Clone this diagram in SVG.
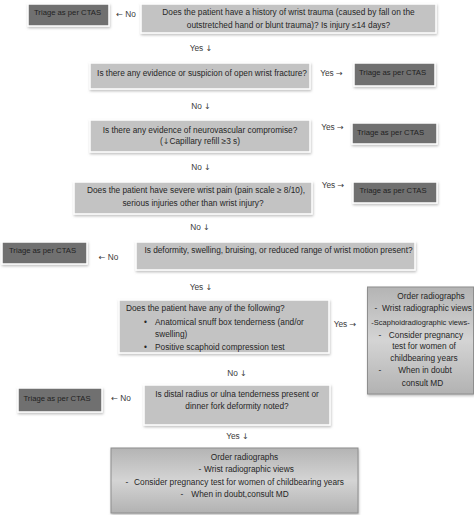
<svg xmlns="http://www.w3.org/2000/svg" width="474" height="515" viewBox="0 0 474 515">
<style>
text{font-family:"Liberation Sans",Arial,sans-serif;font-size:8.3px;fill:#262626;}
.m{text-anchor:middle;}
.q{fill:#c3c3c3;stroke:#fff;stroke-width:1.5;filter:url(#sh);}
.t{fill:#6f6f6f;stroke:#fff;stroke-width:1.5;filter:url(#sh);}
.tt{fill:#222;font-size:7.7px;}
.o{fill:url(#g);stroke:#8e8e8e;stroke-width:1;filter:url(#sh);}
.lbl text{fill:#3a3a3a;}
.a{font-family:"DejaVu Sans",sans-serif;font-size:8px;font-variant-emoji:text;fill:#3a3a3a;}
</style>
<defs>
<filter id="sh" x="-10%" y="-20%" width="120%" height="150%">
<feDropShadow dx="0.6" dy="1.5" stdDeviation="0.9" flood-color="#8a8a8a" flood-opacity="0.55"/>
</filter>
<linearGradient id="g" x1="0" y1="0" x2="0" y2="1">
<stop offset="0" stop-color="#b4b4b4"/>
<stop offset="0.5" stop-color="#d4d4d4"/>
<stop offset="1" stop-color="#b2b2b2"/>
</linearGradient>
</defs>
<rect width="474" height="515" fill="#fff"/>

<g id="q1"><rect class="q" x="141" y="4" width="295" height="29"/>
<text class="m" x="288.5" y="14.6">Does the patient have a history of wrist trauma (caused by fall on the</text>
<text class="m" x="288.5" y="27.8">outstretched hand or blunt trauma)? Is injury ≤14 days?</text></g>
<g id="t1"><rect class="t" x="28" y="4" width="81" height="22"/><text class="m tt" x="67.5" y="14.6">Triage as per CTAS</text></g>

<g id="q2"><rect class="q" x="90" y="63" width="220" height="26"/>
<text class="m" x="202" y="75.9">Is there any evidence or suspicion of open wrist fracture?</text></g>
<g id="t2"><rect class="t" x="354" y="63" width="81" height="23"/><text class="m tt" x="392.5" y="74.6">Triage as per CTAS</text></g>

<g id="q3"><rect class="q" x="90" y="120" width="220" height="32"/>
<text class="m" x="200" y="132.9">Is there any evidence of neurovascular compromise?</text>
<text class="m" x="200" y="143.9">(<tspan class="a">↓︎</tspan>Capillary refill ≥3 s)</text></g>
<g id="t3"><rect class="t" x="352" y="123" width="85" height="21"/><text class="m tt" x="390.5" y="134.6">Triage as per CTAS</text></g>

<g id="q4"><rect class="q" x="74" y="182" width="238" height="32"/>
<text class="m" x="196" y="192.9">Does the patient have severe wrist pain (pain scale ≥ 8/10),</text>
<text class="m" x="193" y="205.9">serious injuries other than wrist injury?</text></g>
<g id="t4"><rect class="t" x="353" y="182" width="84" height="21"/><text class="m tt" x="393" y="192.9">Triage as per CTAS</text></g>

<g id="q5"><rect class="q" x="136" y="242" width="279" height="28"/>
<text class="m" x="278.5" y="252.9">Is deformity, swelling, bruising, or reduced range of wrist motion present?</text></g>
<g id="t5"><rect class="t" x="2" y="242" width="85" height="22"/><text class="m tt" x="42.5" y="252.9">Triage as per CTAS</text></g>

<g id="q6"><rect class="q" x="119" y="300" width="210" height="53"/>
<text x="126" y="310.9">Does the patient have any of the following?</text>
<text x="144" y="324.9">•</text><text x="155" y="324.9">Anatomical snuff box tenderness (and/or</text>
<text x="155" y="337.4">swelling)</text>
<text x="144" y="349.9">•</text><text x="155" y="349.9">Positive scaphoid compression test</text></g>
<g id="o6"><rect class="o" x="367.5" y="287" width="106" height="107"/>
<text class="m" x="431" y="298.9">Order radiographs</text>
<text class="m" y="310.9"><tspan x="376">-</tspan><tspan x="427">Wrist radiographic views</tspan></text>
<text class="m" x="420.5" y="324.9" style="font-size:7.5px">-Scaphoidradiographic views-</text>
<text class="m" y="337.9"><tspan x="380">-</tspan><tspan x="426">Consider pregnancy</tspan></text>
<text class="m" x="424" y="348.9">test for women of</text>
<text class="m" x="424" y="360.9">childbearing years</text>
<text class="m" y="372.9"><tspan x="380">-</tspan><tspan x="425">When in doubt</tspan></text>
<text class="m" x="422.5" y="385.9">consult MD</text></g>

<g id="q7"><rect class="q" x="144" y="385" width="186" height="40"/>
<text class="m" x="237" y="396.9">Is distal radius or ulna tenderness present or</text>
<text class="m" x="237" y="408.9">dinner fork deformity noted?</text></g>
<g id="t7"><rect class="t" x="18" y="388" width="84" height="24"/><text class="m tt" x="57" y="400.9">Triage as per CTAS</text></g>

<g id="o8"><rect class="o" x="111" y="448" width="247" height="65"/>
<text class="m" x="244.5" y="459.9">Order radiographs</text>
<text class="m" y="471.9"><tspan x="200">-</tspan><tspan x="249">Wrist radiographic views</tspan></text>
<text class="m" y="484.9"><tspan x="127">-</tspan><tspan x="239">Consider pregnancy test for women of childbearing years</tspan></text>
<text class="m" y="496.9"><tspan x="182">-</tspan><tspan x="240">When in doubt,consult MD</tspan></text></g>

<g id="connectors" class="lbl">
<text class="m" x="126" y="16.8"><tspan class="a">←︎</tspan> No</text>
<text class="m" x="201" y="50.8">Yes <tspan class="a">↓︎</tspan></text>
<text class="m" x="331.5" y="76.3">Yes <tspan class="a">→︎</tspan></text>
<text class="m" x="201" y="108.9">No <tspan class="a">↓︎</tspan></text>
<text class="m" x="332.5" y="129.9">Yes <tspan class="a">→︎</tspan></text>
<text class="m" x="201" y="169.9">No <tspan class="a">↓︎</tspan></text>
<text class="m" x="333" y="187.9">Yes <tspan class="a">→︎</tspan></text>
<text class="m" x="200" y="229.9">No <tspan class="a">↓︎</tspan></text>
<text class="m" x="108.5" y="259.9"><tspan class="a">←︎</tspan> No</text>
<text class="m" x="201" y="289.9">Yes <tspan class="a">↓︎</tspan></text>
<text class="m" x="345" y="326.9">Yes <tspan class="a">→︎</tspan></text>
<text class="m" x="237" y="375.9">No <tspan class="a">↓︎</tspan></text>
<text class="m" x="121" y="400.9"><tspan class="a">←︎</tspan> No</text>
<text class="m" x="237.5" y="438.9">Yes <tspan class="a">↓︎</tspan></text>
</g>
</svg>
